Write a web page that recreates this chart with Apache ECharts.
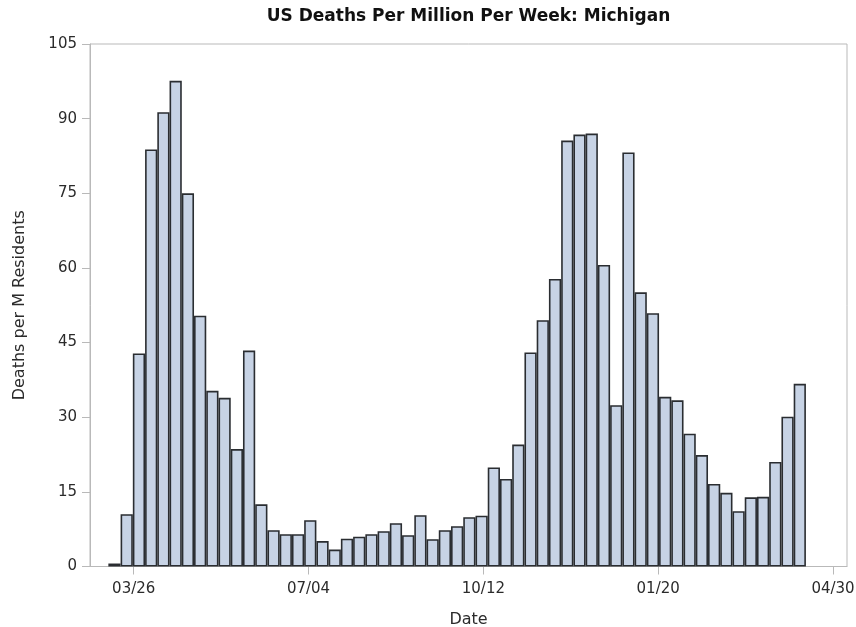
<!DOCTYPE html>
<html>
<head>
<meta charset="utf-8">
<title>US Deaths Per Million Per Week: Michigan</title>
<script src="https://cdn.jsdelivr.net/npm/echarts@6/dist/echarts.min.js"></script>
<style>
  html, body { margin: 0; padding: 0; background: #ffffff; }
  #chart { width: 856px; height: 627px; }
</style>
</head>
<body>
<div id="chart"></div>
<script>
// Week (Sunday) each bar is centred on
const weekDates = [
  '2020-03-15', '2020-03-22', '2020-03-29', '2020-04-05', '2020-04-12', '2020-04-19', '2020-04-26',
  '2020-05-03', '2020-05-10', '2020-05-17', '2020-05-24', '2020-05-31', '2020-06-07', '2020-06-14',
  '2020-06-21', '2020-06-28', '2020-07-05', '2020-07-12', '2020-07-19', '2020-07-26', '2020-08-02',
  '2020-08-09', '2020-08-16', '2020-08-23', '2020-08-30', '2020-09-06', '2020-09-13', '2020-09-20',
  '2020-09-27', '2020-10-04', '2020-10-11', '2020-10-18', '2020-10-25', '2020-11-01', '2020-11-08',
  '2020-11-15', '2020-11-22', '2020-11-29', '2020-12-06', '2020-12-13', '2020-12-20', '2020-12-27',
  '2021-01-03', '2021-01-10', '2021-01-17', '2021-01-24', '2021-01-31', '2021-02-07', '2021-02-14',
  '2021-02-21', '2021-02-28', '2021-03-07', '2021-03-14', '2021-03-21', '2021-03-28', '2021-04-04',
  '2021-04-11'
];

// Weekly deaths per million residents
const deathsPerMillion = [
  0.6, 10.5, 42.8, 83.8, 91.3, 97.6, 75.0, 50.4, 35.3, 33.9,
  23.6, 43.4, 12.5, 7.3, 6.5, 6.5, 9.3, 5.1, 3.4, 5.6,
  6.0, 6.5, 7.1, 8.7, 6.3, 10.3, 5.5, 7.3, 8.1, 9.9,
  10.2, 19.9, 17.6, 24.5, 43.0, 49.5, 57.8, 85.6, 86.8, 87.0,
  60.6, 32.4, 83.2, 55.1, 50.9, 34.1, 33.4, 26.7, 22.4, 16.6,
  14.8, 11.1, 13.9, 14.0, 21.0, 30.1, 36.7
];

// Date axis ticks
const tickDates = ['2020-03-26', '2020-07-04', '2020-10-12', '2021-01-20', '2021-04-30'];
const tickLabels = ['03/26', '07/04', '10/12', '01/20', '04/30'];
const axisStart = '2020-03-01';
const axisEnd = '2021-05-08';

// Y axis ticks
const yMin = 0, yMax = 105, yStep = 15;

// Dates are placed on a numeric axis as whole days since 2020-01-01 (UTC)
const EPOCH = Date.parse('2020-01-01');
function dayNumber(iso) {
  return Math.round((Date.parse(iso) - EPOCH) / 86400000);
}
const tickDays = tickDates.map(dayNumber);
const seriesData = weekDates.map((d, i) => [dayNumber(d), deathsPerMillion[i]]);

const FONT = '"DejaVu Sans", Verdana, sans-serif';
const GRID = { left: 90, right: 9, top: 44, bottom: 60.5 };
const chart = echarts.init(document.getElementById('chart'), null, { renderer: 'canvas' });

chart.setOption({
  animation: false,
  backgroundColor: '#ffffff',
  title: {
    text: 'US Deaths Per Million Per Week: Michigan',
    // centred over the plot area rather than the whole canvas
    left: GRID.left + (856 - GRID.left - GRID.right) / 2,
    textAlign: 'center',
    top: 3,
    padding: [5, 0, 5, 0],
    textStyle: { fontFamily: FONT, fontSize: 17, fontWeight: 'bold', color: '#111111' }
  },
  grid: {
    left: GRID.left, right: GRID.right, top: GRID.top, bottom: GRID.bottom,
    outerBoundsMode: 'none',
    show: true, borderColor: '#b9b9b9', borderWidth: 1, backgroundColor: 'transparent'
  },
  xAxis: {
    type: 'value',
    min: dayNumber(axisStart),
    max: dayNumber(axisEnd),
    name: 'Date',
    nameLocation: 'middle',
    nameGap: 45,
    nameTextStyle: { fontFamily: FONT, fontSize: 16, color: '#2b2b2b' },
    axisLine: { show: true, onZero: false, lineStyle: { color: '#b9b9b9', width: 1 } },
    axisTick: { show: true, length: 8, customValues: tickDays, lineStyle: { color: '#b9b9b9' } },
    axisLabel: {
      customValues: tickDays,
      margin: 15,
      fontFamily: FONT, fontSize: 15, color: '#2b2b2b',
      formatter: v => tickLabels[tickDays.indexOf(v)] || ''
    },
    splitLine: { show: false }
  },
  yAxis: {
    type: 'value',
    min: yMin, max: yMax, interval: yStep,
    name: 'Deaths per M Residents',
    nameLocation: 'middle',
    nameGap: 62,
    nameTextStyle: { fontFamily: FONT, fontSize: 16, color: '#2b2b2b' },
    axisLine: { show: true, lineStyle: { color: '#b9b9b9', width: 1 } },
    axisTick: { show: true, length: 8, lineStyle: { color: '#b9b9b9' } },
    axisLabel: { margin: 13, fontFamily: FONT, fontSize: 15, color: '#2b2b2b' },
    splitLine: { show: false }
  },
  series: [{
    type: 'bar',
    data: seriesData,
    barCategoryGap: '0%',
    itemStyle: { color: '#c7d3e5', borderColor: '#2a2d31', borderWidth: 1.6 }
  }]
});
</script>
</body>
</html>
